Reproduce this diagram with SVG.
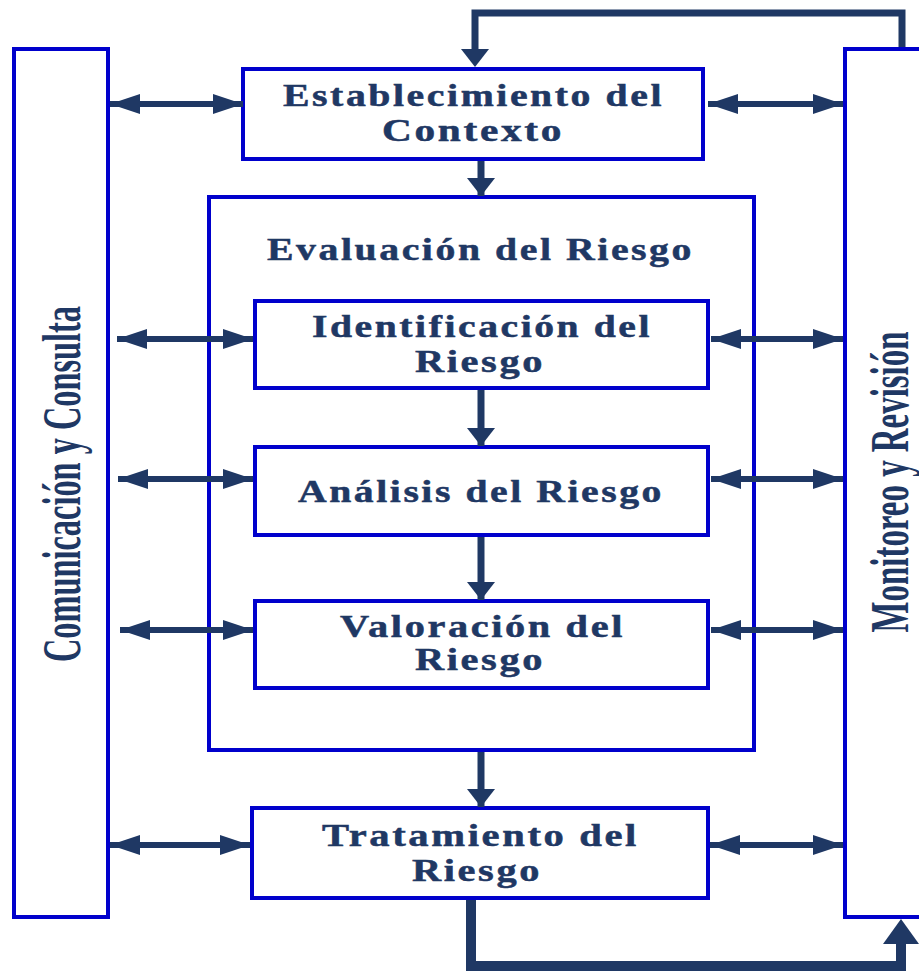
<svg xmlns="http://www.w3.org/2000/svg" width="919" height="971" viewBox="0 0 919 971">
<style>
  .box{fill:#fff;stroke:#0000CC;stroke-width:4}
  .t{font-family:"Liberation Serif","Times New Roman",serif;font-weight:bold;font-size:31px;letter-spacing:2px;fill:#1F3864;stroke:#1F3864;stroke-width:0.5}
  .v{font-family:"Liberation Serif","Times New Roman",serif;font-weight:bold;font-size:54px;fill:#1F3864}
  .ln{fill:none;stroke:#1F3864;stroke-width:6}
  .lnv{fill:none;stroke:#1F3864;stroke-width:7}
  .hd{fill:#1F3864}
</style>
<defs>
  <marker id="ah" viewBox="0 0 30 20" refX="30" refY="10" markerWidth="30" markerHeight="20" markerUnits="userSpaceOnUse" orient="auto-start-reverse">
    <path d="M0,0 L30,10 L0,20 Z" fill="#1F3864"/>
  </marker>
  <marker id="av" viewBox="0 0 18 28" refX="18" refY="14" markerWidth="18" markerHeight="28" markerUnits="userSpaceOnUse" orient="auto">
    <path d="M0,0 L18,14 L0,28 Z" fill="#1F3864"/>
  </marker>
</defs>

<g id="comunicacion">
  <rect class="box" x="14" y="49" width="94" height="868"/>
  <text class="v" transform="translate(80,484) rotate(-90)" text-anchor="middle" textLength="356" lengthAdjust="spacingAndGlyphs">Comunicación y Consulta</text>
</g>
<g id="monitoreo">
  <rect class="box" x="845" y="49" width="90" height="868"/>
  <text class="v" transform="translate(908,482) rotate(-90)" text-anchor="middle" textLength="301" lengthAdjust="spacingAndGlyphs">Monitoreo y Revisión</text>
</g>
<g id="evaluacion">
  <rect class="box" x="209" y="197" width="545" height="553"/>
  <text class="t" x="267" y="260" textLength="427" lengthAdjust="spacingAndGlyphs">Evaluación del Riesgo</text>
</g>
<g id="establecimiento">
  <rect class="box" x="243" y="69" width="460" height="90"/>
  <text class="t" x="283" y="106" textLength="381" lengthAdjust="spacingAndGlyphs">Establecimiento del</text>
  <text class="t" x="382" y="141" textLength="182" lengthAdjust="spacingAndGlyphs">Contexto</text>
</g>
<g id="identificacion">
  <rect class="box" x="255" y="301" width="453" height="87"/>
  <text class="t" x="312" y="337" textLength="340" lengthAdjust="spacingAndGlyphs">Identificación del</text>
  <text class="t" x="415" y="372" textLength="130" lengthAdjust="spacingAndGlyphs">Riesgo</text>
</g>
<g id="analisis">
  <rect class="box" x="255" y="447" width="453" height="88"/>
  <text class="t" x="298" y="502" textLength="366" lengthAdjust="spacingAndGlyphs">Análisis del Riesgo</text>
</g>
<g id="valoracion">
  <rect class="box" x="255" y="601" width="453" height="87"/>
  <text class="t" x="340" y="637" textLength="285" lengthAdjust="spacingAndGlyphs">Valoración del</text>
  <text class="t" x="415" y="670" textLength="130" lengthAdjust="spacingAndGlyphs">Riesgo</text>
</g>
<g id="tratamiento">
  <rect class="box" x="252" y="808" width="456" height="90"/>
  <text class="t" x="322" y="846" textLength="317" lengthAdjust="spacingAndGlyphs">Tratamiento del</text>
  <text class="t" x="412" y="881" textLength="130" lengthAdjust="spacingAndGlyphs">Riesgo</text>
</g>

<g id="connectors">
  <line class="ln" x1="110" y1="104" x2="243" y2="104" marker-start="url(#ah)" marker-end="url(#ah)"/>
  <line class="ln" x1="117" y1="339" x2="253" y2="339" marker-start="url(#ah)" marker-end="url(#ah)"/>
  <line class="ln" x1="118" y1="479" x2="253" y2="479" marker-start="url(#ah)" marker-end="url(#ah)"/>
  <line class="ln" x1="120" y1="630" x2="253" y2="630" marker-start="url(#ah)" marker-end="url(#ah)"/>
  <line class="ln" x1="110" y1="845" x2="250" y2="845" marker-start="url(#ah)" marker-end="url(#ah)"/>
  <line class="ln" x1="708" y1="104" x2="843" y2="104" marker-start="url(#ah)" marker-end="url(#ah)"/>
  <line class="ln" x1="711" y1="339" x2="843" y2="339" marker-start="url(#ah)" marker-end="url(#ah)"/>
  <line class="ln" x1="711" y1="479" x2="843" y2="479" marker-start="url(#ah)" marker-end="url(#ah)"/>
  <line class="ln" x1="711" y1="630" x2="843" y2="630" marker-start="url(#ah)" marker-end="url(#ah)"/>
  <line class="ln" x1="710" y1="845" x2="843" y2="845" marker-start="url(#ah)" marker-end="url(#ah)"/>
  <line class="lnv" x1="481" y1="161" x2="481" y2="196" marker-end="url(#av)"/>
  <line class="lnv" x1="481" y1="390" x2="481" y2="446" marker-end="url(#av)"/>
  <line class="lnv" x1="481" y1="537" x2="481" y2="600" marker-end="url(#av)"/>
  <line class="lnv" x1="481" y1="752" x2="481" y2="807" marker-end="url(#av)"/>
  <path class="lnv" d="M902,47 V13 H475 V50"/>
  <polygon class="hd" points="461,49 489,49 475,67"/>
  <path d="M471,900 V966 H901 V943" fill="none" stroke="#1F3864" stroke-width="10"/>
  <polygon class="hd" points="883,944 919,944 901,919"/>
</g>
</svg>
